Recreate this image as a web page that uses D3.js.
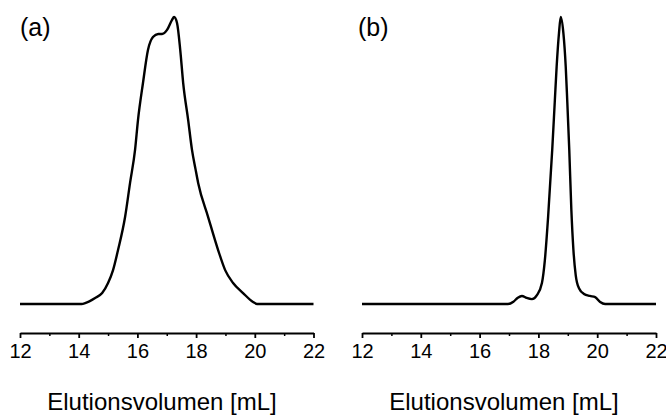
<!DOCTYPE html>
<html>
<head>
<meta charset="utf-8">
<script src="https://cdn.jsdelivr.net/npm/d3@7"></script>
<style>
  html, body { margin: 0; padding: 0; background: #fff; }
  svg { display: block; font-family: "Liberation Sans", Arial, Helvetica, sans-serif; }
</style>
</head>
<body>
<svg id="chart" width="666" height="415"></svg>
<script>
// ---- data ----
const panelLabels = ["(a)", "(b)"];
const xTickValues = [12, 14, 16, 18, 20, 22];
const xMinorTickValues = [13, 15, 17, 19, 21];
const xTitle = "Elutionsvolumen [mL]";

// panel (a): elution volume [mL] and normalized signal
const volumeA = [12, 14.1, 14.22, 14.56, 14.80, 15.00, 15.17, 15.34, 15.58, 15.75, 15.92, 16.02, 16.19, 16.36, 16.53, 16.71, 16.84, 17.01, 17.18, 17.25, 17.35, 17.46, 17.56, 17.73, 17.86, 17.98, 18.07, 18.41, 18.75, 18.99, 19.26, 19.60, 19.94, 20.08, 22];
const signalA = [0, 0, 0.003, 0.021, 0.038, 0.073, 0.118, 0.188, 0.303, 0.422, 0.537, 0.641, 0.770, 0.885, 0.930, 0.941, 0.941, 0.955, 0.990, 1.0, 0.979, 0.885, 0.770, 0.641, 0.537, 0.470, 0.422, 0.303, 0.188, 0.118, 0.073, 0.038, 0.007, 0, 0];

// panel (b)
const volumeB = [12, 16.97, 17.15, 17.30, 17.44, 17.60, 17.78, 17.95, 18.12, 18.22, 18.33, 18.47, 18.56, 18.62, 18.70, 18.76, 18.85, 18.93, 18.98, 19.05, 19.12, 19.19, 19.27, 19.38, 19.55, 19.75, 19.93, 20.10, 20.27, 22];
const signalB = [0, 0, 0.008, 0.022, 0.028, 0.021, 0.017, 0.031, 0.073, 0.153, 0.303, 0.537, 0.711, 0.826, 0.944, 1.0, 0.944, 0.826, 0.711, 0.537, 0.330, 0.190, 0.100, 0.055, 0.035, 0.028, 0.024, 0.007, 0, 0];

// ---- layout ----
const svg = d3.select("#chart");
const panels = [
  { label: panelLabels[0], xs: volumeA, ys: signalA, range: [20, 313.5], labelX: 20, titleX: 162 },
  { label: panelLabels[1], xs: volumeB, ys: signalB, range: [362, 656], labelX: 358, titleX: 504 }
];
const y = d3.scaleLinear().domain([0, 1]).range([304, 17]);
const axisY = 333;

panels.forEach(p => {
  const x = d3.scaleLinear().domain([12, 22]).range(p.range);
  const g = svg.append("g");

  const data = p.xs.map((v, i) => [v, p.ys[i]]);
  const line = d3.line().x(d => x(d[0])).y(d => y(d[1])).curve(d3.curveMonotoneX);
  g.append("path")
    .datum(data)
    .attr("d", line)
    .attr("fill", "none")
    .attr("stroke", "#000")
    .attr("stroke-width", 2.4)
    .attr("stroke-linejoin", "round");

  // minor ticks
  const minor = g.append("g")
    .attr("transform", `translate(0,${axisY})`)
    .call(d3.axisBottom(x).tickValues(xMinorTickValues).tickSize(3).tickFormat(""));
  minor.select(".domain").remove();
  minor.selectAll("line").attr("stroke-width", 1.5);

  // major axis
  const ax = g.append("g")
    .attr("transform", `translate(0,${axisY})`)
    .call(d3.axisBottom(x).tickValues(xTickValues).tickSizeInner(5).tickSizeOuter(0).tickPadding(6).tickFormat(d3.format("d")));
  ax.select(".domain").attr("stroke-width", 2);
  ax.selectAll(".tick line").attr("stroke-width", 1.8);
  ax.selectAll(".tick text")
    .attr("font-size", 20)
    .attr("font-family", '"Liberation Sans", Arial, sans-serif')
    .attr("fill", "#000");

  // axis title
  g.append("text")
    .attr("x", p.titleX)
    .attr("y", 410)
    .attr("text-anchor", "middle")
    .attr("font-size", 24)
    .attr("fill", "#000")
    .text(xTitle);

  // panel label
  g.append("text")
    .attr("x", p.labelX)
    .attr("y", 36)
    .attr("font-size", 25)
    .attr("fill", "#000")
    .text(p.label);
});
</script>
</body>
</html>
